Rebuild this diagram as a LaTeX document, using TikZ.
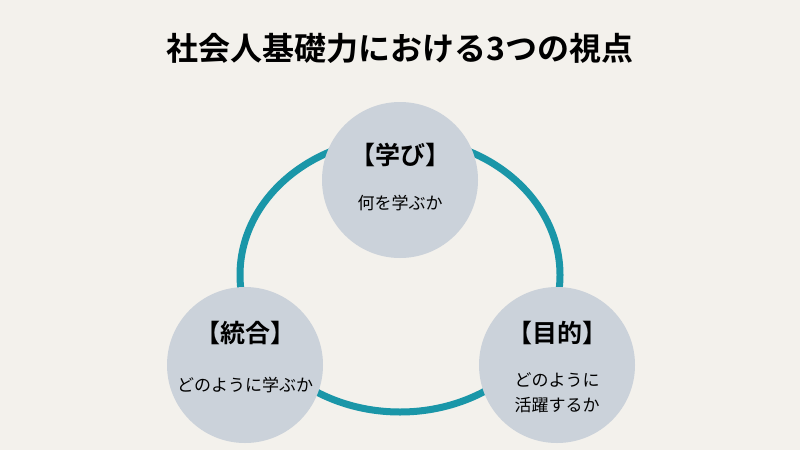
\documentclass[tikz,border=0pt]{standalone}
\usepackage{fontspec}
\newfontfamily\jp{Noto Sans CJK JP}
\newfontfamily\jpb{Noto Sans CJK JP Bold}
\definecolor{bg}{HTML}{F3F1EC}
\definecolor{ring}{HTML}{1A96A8}
\definecolor{cf}{HTML}{CBD2DA}
\begin{document}
\begin{tikzpicture}[x=1pt,y=-1pt,
  bub/.style={circle,fill=cf,minimum size=156pt,inner sep=0pt},
  head/.style={font=\jpb\fontsize{25}{28}\selectfont,text=black},
  sub/.style={font=\jp\fontsize{17}{25}\selectfont,text=black,align=center}]
\fill[bg] (0,0) rectangle (800,450);
\useasboundingbox (0,0) rectangle (800,450);
\node[font=\jpb\fontsize{32}{36}\selectfont] (title) at (400,48) {社会人基礎力における3つの視点};
\draw[ring,line width=7pt] (400,275) ellipse [x radius=160, y radius=137];
\node[bub] (top) at (400,180) {};
\node[bub] (left) at (245,365) {};
\node[bub] (right) at (557,365) {};
\node[head] (th) at (400,155) {【学び】};
\node[sub] (ts) at (400,203) {何を学ぶか};
\node[head] (lh) at (245,333) {【統合】};
\node[sub] (ls) at (245,385) {どのように学ぶか};
\node[head] (rh) at (557,333) {【目的】};
\node[sub] (rs) at (557,393) {どのように\\活躍するか};
\end{tikzpicture}
\end{document}
